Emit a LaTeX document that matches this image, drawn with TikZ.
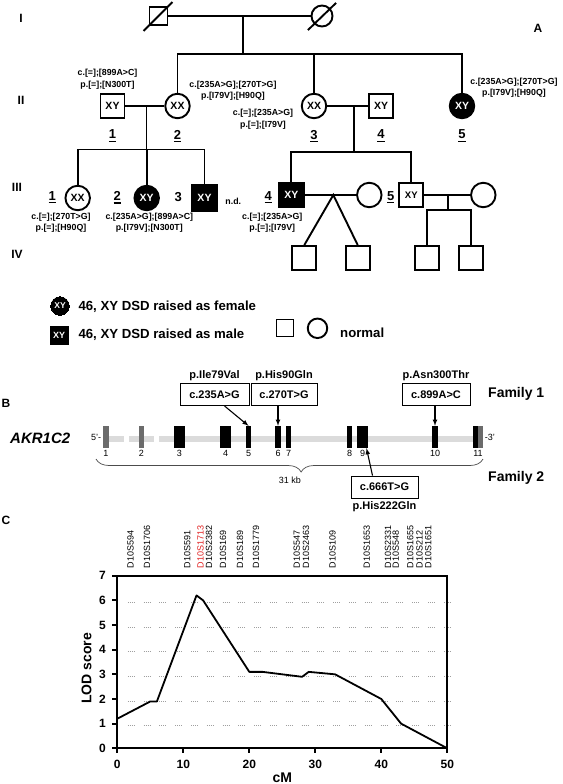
\documentclass[tikz,border=0pt]{standalone}
\usepackage{fontspec}
\setmainfont{Liberation Sans}
\usetikzlibrary{arrows, positioning, decorations.pathreplacing}
\definecolor{exgray}{gray}{0.42}
\definecolor{bandgray}{gray}{0.86}
\definecolor{markred}{RGB}{225,35,35}
\newcommand{\pedid}[1]{\setbox0\hbox{#1}\rlap{\rule[-3pt]{\wd0}{1.3pt}}\box0}

\begin{document}
\begin{tikzpicture}[x=1pt, y=-1pt, ped/.style={line width=1.9pt},
  male node/.style={rectangle, draw, line width=1.9pt, minimum size=24pt, inner sep=0pt, font=\fontsize{10.5}{12}\selectfont\bfseries},
  female node/.style={circle, draw, line width=1.9pt, minimum size=24.5pt, inner sep=0pt, font=\fontsize{10.5}{12}\selectfont\bfseries},
  dsd/.style={fill=black, text=white},
  gen label/.style={font=\fontsize{12}{14}\selectfont\bfseries},
  id label/.style={font=\fontsize{13}{15}\selectfont\bfseries},
  geno/.style={align=center, inner sep=0pt, font=\fontsize{8.8}{11.5}\selectfont\bfseries},
  legend text/.style={anchor=west, inner sep=0pt, font=\fontsize{13.2}{15}\selectfont\bfseries},
  exon/.style={rectangle, inner sep=0pt, minimum height=22pt},
  exnum/.style={inner sep=0pt, font=\fontsize{9}{10}\selectfont},
  mut box/.style={draw, line width=0.9pt, minimum height=22pt, inner sep=0pt, font=\fontsize{11}{13}\selectfont\bfseries},
  prot label/.style={inner sep=0pt, font=\fontsize{11}{13}\selectfont\bfseries},
  mut arrow/.style={-latex, line width=1.1pt},
  panel/.style={font=\fontsize{12}{14}\selectfont\bfseries},
  tick label/.style={font=\fontsize{12}{14}\selectfont\bfseries},
  marker/.style={rotate=90, anchor=west, inner sep=0pt, font=\fontsize{9}{10}\selectfont}]% pixel units, y downwards
\useasboundingbox (0,0) rectangle (562,784);

% A: pedigree
\node[panel] at (538,28) {A};
\foreach \g/\x/\y in {I/21/18, II/21/100, III/17/187, IV/17/254}
    \node[gen label] at (\x,\y) {\g};

\node[male node, minimum size=18pt] (I1) at (158.5,16) {};
\node[female node, minimum size=21pt] (I2) at (322,16) {};
\draw[ped] ([shift={(-5,5)}]I1.south west) -- ([shift={(4,-4)}]I1.north east);
\draw[ped] ([shift={(-6,6)}]I2.south west) -- ([shift={(6,-5)}]I2.north east);
\draw[ped] (I1) -- (I2);
\coordinate (m1) at (242.7,16);
\coordinate (sib2) at (242.7,54);
\draw[ped] (m1) -- (sib2);

\node[male node] (II1) at (112.5,106) {XY};
\node[female node] (II2) at (177.5,106) {XX};
\node[female node] (II3) at (314,106) {XX};
\node[male node] (II4) at (381,106) {XY};
\node[female node, dsd] (II5) at (462,106) {XY};
\foreach \p in {II2, II3, II5}
    \draw[ped] (\p) |- (sib2);
\draw[ped] (II1) -- (II2);
\draw[ped] (II3) -- (II4);
\foreach \n/\x in {1/112.5, 2/177.5, 3/314, 4/381, 5/462}
    \node[id label] at (\x,136) {\pedid{\n}};

\coordinate (m12) at (146.5,106);
\coordinate (sib3a) at (146.5,149.5);
\coordinate (m34) at (354,106);
\coordinate (sib3b) at (354,152);
\draw[ped] (m12) -- (sib3a);
\draw[ped] (m34) -- (sib3b);

\node[female node] (III1) at (77.7,198) {XX};
\node[female node, dsd] (III2) at (146.7,198) {XY};
\node[male node, dsd, minimum size=25.5pt] (III3) at (204.5,198) {XY};
\foreach \p in {III1, III2, III3}
    \draw[ped] (\p) |- (sib3a);
\node[font=\fontsize{8.8}{10}\selectfont\bfseries] (nd) at (233.3,201.7) {n.d.};

\node[male node, dsd, minimum size=25pt] (III4) at (291.3,195) {XY};
\node[female node] (W4) at (369.3,195) {};
\node[male node, font=\fontsize{9.5}{11}\selectfont\bfseries] (III5) at (411.3,195) {XY};
\node[female node] (W5) at (483.3,195) {};
\foreach \p in {III4, III5}
    \draw[ped] (\p) |- (sib3b);
\draw[ped] (III4) -- (W4);
\draw[ped] (III5) -- (W5);
\foreach \n/\x/\u in {1/52.3/1, 2/117.3/1, 3/178.3/0, 4/268.3/1, 5/390.7/1}{
    \ifnum\u=1 \node[id label] at (\x,197.5) {\pedid{\n}};
    \else \node[id label] at (\x,196.7) {\n};\fi}

\node[male node] (IV1) at (304.3,258) {};
\node[male node] (IV2) at (357.7,258) {};
\node[male node] (IV3) at (426.7,258) {};
\node[male node] (IV4) at (471,258) {};
\coordinate (tw) at (333.3,195);
\draw[ped] (IV1.north) -- (tw) -- (IV2.north);
\coordinate (m55) at (448.3,195);
\coordinate (sib4) at (448.3,210);
\draw[ped] (m55) -- (sib4);
\foreach \p in {IV3, IV4}
    \draw[ped] (\p) |- (sib4);

\node[geno] at (107.5,79.3) {c.[=];[899A>C]\\p.[=];[N300T]};
\node[geno] at (233,90.5) {c.[235A>G];[270T>G]\\p.[I79V];[H90Q]};
\node[geno] at (263,119.3) {c.[=];[235A>G]\\p.[=];[I79V]};
\node[geno] at (514,87.5) {c.[235A>G];[270T>G]\\p.[I79V];[H90Q]};
\node[geno] at (61,222.8) {c.[=];[270T>G]\\p.[=];[H90Q]};
\node[geno] at (149.3,222.8) {c.[235A>G];[899A>C]\\p.[I79V];[N300T]};
\node[geno] at (272.3,222.8) {c.[=];[235A>G]\\p.[=];[I79V]};

% legend
\node[female node, dsd, line width=0pt, minimum size=18.5pt, font=\fontsize{8.5}{10}\selectfont\bfseries] (Lf) at (60,306) {XY};
\node[male node, dsd, line width=0pt, minimum size=18pt, font=\fontsize{9}{10}\selectfont\bfseries] (Lm) at (59.2,335) {XY};
\node[legend text] (Lft) at (78.3,306.7) {46, XY DSD raised as female};
\node[legend text] (Lmt) at (78.3,335) {46, XY DSD raised as male};
\node[male node, minimum size=17pt] (Ln1) at (285,328) {};
\node[female node, minimum size=19.5pt] (Ln2) at (317.5,328.3) {};
\node[legend text] (Lnt) at (340,332.7) {normal};

% B: gene structure
\node[panel] at (6,403) {B};
\node[anchor=west, inner sep=0pt, font=\fontsize{15}{17}\selectfont\bfseries\itshape] (gene) at (10,438) {AKR1C2};
\foreach \a/\b in {105/124, 129/154, 159/480}
    \fill[bandgray] (\a,436) rectangle (\b,442);
\foreach \n/\x/\w/\col in {1/106/6/exgray, 2/141.5/5/exgray, 3/179.5/11/black, 4/225.5/11/black,
    5/248.5/5/black, 6/278/6/black, 7/288.5/5/black, 8/349.5/5/black, 9/362.5/11/black,
    10/435/6/black, 11/478/10/black}{
    \node[exon, fill=\col, minimum width=\w pt] (e\n) at (\x,437) {};
    \node[exnum, below=1.5pt of e\n] {\n};}
\fill[exgray] (e11.north) rectangle (e11.south east);
\node[exnum, left=1.5pt of e1] {5'-};
\node[exnum, right=1.5pt of e11] {-3'};
\draw[decorate, decoration={brace, mirror, amplitude=13pt, aspect=0.53}, black!70, line width=0.7pt] (96,459) -- (483,459);
\node[exnum] at (290,480.5) {31 kb};

\node[mut box, minimum width=69pt] (b235) at (214.5,394.5) {c.235A>G};
\node[mut box, minimum width=66pt] (b270) at (284,394.5) {c.270T>G};
\node[mut box, minimum width=68pt] (b899) at (436,394.5) {c.899A>C};
\node[mut box, minimum width=67pt] (b666) at (384.5,487) {c.666T>G};
\node[prot label, above=2.5pt of b235] {p.Ile79Val};
\node[prot label, above=2.5pt of b270] {p.His90Gln};
\node[prot label, above=2.5pt of b899] {p.Asn300Thr};
\node[prot label, below=3pt of b666] {p.His222Gln};
\draw[mut arrow] ([xshift=10pt]b235.south) -- (e5.north);
\draw[mut arrow] (b270.south -| e6.north) -- (e6.north);
\draw[mut arrow] (b899.south -| e10.north) -- (e10.north);
\draw[mut arrow] ([xshift=-12pt]b666.north) -- ([xshift=4pt]e9.south);
\node[anchor=west, inner sep=0pt, font=\fontsize{14}{16}\selectfont\bfseries] at (488,393.5) {Family 1};
\node[anchor=west, inner sep=0pt, font=\fontsize{14}{16}\selectfont\bfseries] at (488,478) {Family 2};

% C: linkage plot
\node[panel] at (6,520) {C};
\begin{scope}[shift={(117.3,748.3)}, x=6.6pt, y=24.66pt]
\foreach \y in {1,...,6}
    \draw[gray!75, line width=0.6pt, dash pattern=on 0.8pt off 1.2pt on 0.8pt off 1.2pt on 0.8pt off 1.2pt on 0.8pt off 9pt] (1.6,\y-0.08) -- (50.8,\y-0.08);
\draw[line width=1.8pt, line join=round] plot coordinates {(0,1.2) (5,1.9) (6,1.9) (12,6.2) (13,6.0) (20,3.1) (22,3.1) (28,2.9) (29,3.1) (33,3.0) (40,2.0) (43,1.0) (50,0)};
\draw[line width=2pt] (0,0) rectangle (50,7);
\foreach \y in {0,...,7}{
    \draw[line width=1.8pt] (0,\y) -- ++(-5.5pt,0);
    \node[tick label, anchor=east] at (-1.2,\y) {\y};}
\foreach \x in {0,10,...,50}{
    \draw[line width=1.8pt] (\x,0) -- ++(0,-5pt);
    \node[tick label] at (\x,-0.65) {\x};}
\node[font=\fontsize{14}{16}\selectfont\bfseries] at (25,-1.19) {cM};
\node[rotate=90, font=\fontsize{14}{16}\selectfont\bfseries] at (-4.64,3.24) {LOD score};
\foreach \m/\c/\col in {D10S594/2.0/black, D10S1706/4.5/black, D10S591/10.6/black, D10S1713/12.6/markred,
    D10S2382/13.9/black, D10S169/16.0/black, D10S189/18.6/black, D10S1779/21.0/black,
    D10S547/27.2/black, D10S2463/28.6/black, D10S109/32.6/black, D10S1653/37.8/black,
    D10S2331/41.0/black, D10S548/42.2/black, D10S1655/44.4/black, D10S212/45.8/black, D10S1651/47.1/black}
    \node[marker, text=\col] at (\c,7.3) {\m};
\end{scope}
\end{tikzpicture}
\end{document}
